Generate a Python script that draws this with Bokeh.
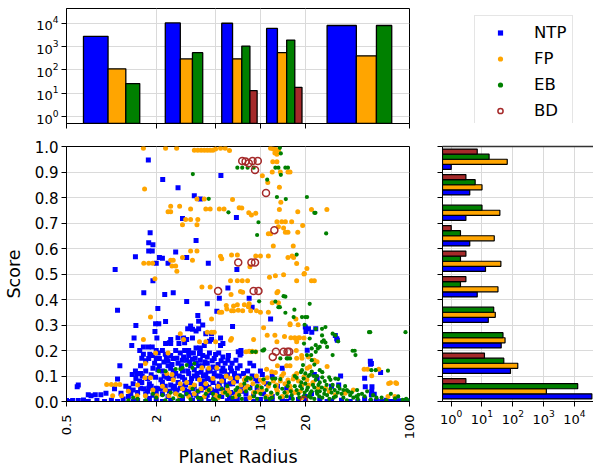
import math
from bokeh.plotting import figure
from bokeh.layouts import column, row
from bokeh.models import (FixedTicker, CustomJSTickFormatter, LogAxis, Legend, LegendItem)
from bokeh.embed import file_html
from bokeh.resources import INLINE

# ---------------- data ----------------
series = ["NTP", "FP", "EB", "BD"]
colors = ["blue", "orange", "green", "brown"]

radius_bins = [0.5, 2, 5, 10, 20, 100]
radius_ticks = [0.5, 2, 5, 10, 20, 100]
score_bins = [0.0, 0.1, 0.2, 0.3, 0.4, 0.5, 0.6, 0.7, 0.8, 0.9, 1.0]
score_ticks = [0.0, 0.1, 0.2, 0.3, 0.4, 0.5, 0.6, 0.7, 0.8, 0.9, 1.0]
count_ticks = [1, 10, 100, 1000, 10000]

# histogram counts over radius bins (top panel)
top_ntp = [2750, 10300, 10000, 6000, 8000]
top_fp = [112, 295, 300, 550, 400]
top_eb = [26, 550, 1050, 1900, 8000]
top_bd = [0, 0, 13, 18, 0]

# histogram counts over score bins (right panel)
right_ntp = [36900, 84, 42, 16, 7, 13, 4, 3, 4, 1]
right_fp = [1230, 145, 56, 27, 33, 41, 25, 38, 10, 66]
right_eb = [12800, 51, 48, 24, 2, 2, 2, 10, 6, 17]
right_bd = [3, 12, 0, 0, 3, 3, 1, 0, 3, 7]

# scatter points (planet radius, score)
ntp_points = [
    (1.77, 0.947), (5.43, 0.886), (2.21, 0.871), (2.8, 0.838), (3.6, 0.807), (3.95, 0.794), (3.0, 0.718), (6.9, 0.722),
    (1.82, 0.662), (1.78, 0.623), (1.9, 0.615), (3.7, 0.631), (1.78, 0.59), (1.88, 0.59), (2.7, 0.586), (1.45, 0.568),
    (2.1, 0.565), (2.2, 0.562), (3.2, 0.565), (4.47, 0.542), (2.0, 0.542), (2.4, 0.542), (1.06, 0.518), (6.95, 0.518),
    (1.9, 0.474), (1.65, 0.426), (2.28, 0.42), (2.6, 0.426), (6.05, 0.445), (5.3, 0.405), (3.2, 0.392), (4.4, 0.383),
    (8.4, 0.405), (8.8, 0.37), (5.1, 0.354), (2.05, 0.365), (1.1, 0.358), (3.8, 0.337), (3.85, 0.315), (3.85, 0.285),
    (3.4, 0.296), (3.7, 0.276), (6.5, 0.294), (11.7, 0.324), (1.46, 0.298), (1.98, 0.305), (2.08, 0.305), (2.31, 0.314),
    (1.96, 0.275), (3.25, 0.285), (3.5, 0.283), (4.1, 0.3), (4.3, 0.266), (4.7, 0.266), (20.2, 0.275), (21, 0.285),
    (23.5, 0.285), (22.1, 0.272), (20, 0.292),
    (1.42, 0.249), (2.02, 0.249), (2.5, 0.243), (3.05, 0.249), (3.2, 0.243), (3.5, 0.249), (5.4, 0.249), (4.55, 0.236),
    (4.7, 0.243), (32.5, 0.246), (31.8, 0.259), (32.8, 0.24),
    (1.37, 0.22), (1.64, 0.214), (1.77, 0.214), (1.88, 0.214), (2.31, 0.227), (2.5, 0.227), (2.84, 0.227), (5.4, 0.22),
    (5.6, 0.227), (4.2, 0.22), (3.9, 0.21), (3.7, 0.21),
    (1.64, 0.185), (1.81, 0.185), (2.06, 0.19), (3.9, 0.188), (7.4, 0.2), (7.4, 0.188), (7.1, 0.195), (7.3, 0.182), (20.6, 0.201),
    (1.78, 0.169), (2.0, 0.169), (2.1, 0.169), (2.34, 0.169), (2.6, 0.169), (2.99, 0.162), (3.2, 0.162), (3.5, 0.166),
    (3.95, 0.162), (4.4, 0.175), (4.9, 0.169), (5.0, 0.184), (5.6, 0.175), (6.05, 0.162), (6.85, 0.162), (54.6, 0.158),
    (55.5, 0.149), (54.8, 0.146),
    (1.14, 0.14), (1.57, 0.14), (2.1, 0.14), (2.4, 0.14), (2.8, 0.15), (5.5, 0.119), (5.6, 0.13), (6.3, 0.132), (3.0, 0.12),
    (3.3, 0.11), (3.6, 0.125), (4.0, 0.115), (4.6, 0.12), (10, 0.12), (9, 0.14), (8.5, 0.15), (14, 0.13),
    (2.2, 0.12), (2.5, 0.13), (2.7, 0.11), (1.9, 0.13), (1.7, 0.16), (1.95, 0.15), (2.25, 0.155), (2.5, 0.18), (2.7, 0.2),
    (2.9, 0.19), (3.1, 0.2), (3.3, 0.18), (3.4, 0.14), (3.7, 0.15), (4.1, 0.14), (4.4, 0.15), (4.8, 0.135), (5.2, 0.145),
    (5.8, 0.15), (6.4, 0.12), (7.0, 0.13),
    (1.38, 0.106), (1.48, 0.11), (1.57, 0.11), (10.3, 0.106), (4.3, 0.105), (5.0, 0.1), (5.5, 0.095), (6.0, 0.105),
    (6.6, 0.09), (7.2, 0.1), (8.0, 0.085), (12, 0.1), (23, 0.106), (24, 0.09), (34.5, 0.1), (50, 0.091), (64, 0.114),
    (1.1, 0.088), (1.46, 0.09), (1.61, 0.1), (1.98, 0.095), (2.26, 0.1), (2.43, 0.09), (2.6, 0.098), (3.1, 0.085),
    (3.4, 0.075), (3.8, 0.09), (4.2, 0.08), (4.8, 0.075), (5.3, 0.07), (5.9, 0.065), (6.5, 0.07), (7.5, 0.06), (8.5, 0.055),
    (9.5, 0.08), (11, 0.07), (13, 0.06), (15, 0.05), (3.0, 0.095), (3.6, 0.1), (4.4, 0.09), (2.8, 0.075), (2.2, 0.075),
    (1.8, 0.07), (1.6, 0.075), (1.4, 0.07), (2.5, 0.065),
    (0.59, 0.058), (0.6, 0.065), (1.05, 0.05), (1.31, 0.052), (1.57, 0.052), (1.78, 0.052), (2.0, 0.052), (2.22, 0.052),
    (2.6, 0.052), (2.9, 0.052), (3.0, 0.06), (3.5, 0.05), (4.0, 0.045), (4.5, 0.055), (5.0, 0.04), (5.7, 0.045),
    (6.3, 0.035), (7.0, 0.04), (9.5, 0.05), (30, 0.06), (33.5, 0.065), (50.5, 0.058), (56, 0.058), (3.3, 0.04), (4.6, 0.035),
    (1.4, 0.045), (2.0, 0.035),
    (0.7, 0.026), (0.78, 0.026), (0.85, 0.026), (0.73, 0.023), (0.92, 0.032), (1.16, 0.032), (1.5, 0.035), (1.7, 0.03),
    (1.9, 0.025), (2.2, 0.03), (2.4, 0.02), (2.7, 0.035), (3.2, 0.03), (3.7, 0.025), (4.3, 0.02), (4.9, 0.025), (5.5, 0.02),
    (6.2, 0.015), (7.0, 0.02), (8.0, 0.03), (9.0, 0.025), (10.5, 0.03), (12, 0.02), (16, 0.015), (20, 0.02), (22, 0.03),
    (55.8, 0.039), (58, 0.028), (55.5, 0.026), (2.9, 0.015), (3.9, 0.012), (1.8, 0.012),
    (0.5, 0.004), (0.55, 0.004), (0.6, 0.004), (0.65, 0.006), (0.8, 0.004), (1.0, 0.005), (1.2, 0.01), (1.3, 0.02),
    (1.5, 0.004), (2.0, 0.01), (2.5, 0.004), (3.0, 0.01), (3.5, 0.004), (4.0, 0.008), (5.0, 0.01), (6.0, 0.003),
    (6.5, 0.008), (8.0, 0.01), (10, 0.008), (12, 0.003), (14, 0.01), (18, 0.008), (25, 0.006), (30, 0.003), (35, 0.005),
    (50, 0.01), (60, 0.003), (70, 0.005), (85, 0.003), (95, 0.004),
    # dense core of the NTP cloud
    (1.55, 0.2), (1.6, 0.17), (1.7, 0.12), (1.75, 0.09), (1.85, 0.105), (1.9, 0.18), (2.0, 0.2), (2.05, 0.125),
    (2.15, 0.085), (2.2, 0.2), (2.3, 0.185), (2.35, 0.095), (2.4, 0.16), (2.45, 0.23), (2.55, 0.145), (2.6, 0.12),
    (2.65, 0.06), (2.75, 0.17), (2.8, 0.25), (2.85, 0.1), (2.95, 0.14), (3.05, 0.175), (3.1, 0.23), (3.15, 0.065),
    (3.25, 0.12), (3.3, 0.2), (3.35, 0.155), (3.45, 0.09), (3.55, 0.19), (3.6, 0.06), (3.65, 0.17), (3.75, 0.11),
    (3.85, 0.14), (3.95, 0.2), (4.0, 0.07), (4.1, 0.18), (4.15, 0.1), (4.25, 0.155), (4.35, 0.06), (4.45, 0.12),
    (4.55, 0.19), (4.65, 0.085), (4.75, 0.16), (4.9, 0.11), (5.05, 0.13), (5.15, 0.06), (5.25, 0.19), (5.35, 0.1),
    (5.45, 0.16), (5.65, 0.08), (5.75, 0.12), (5.95, 0.1), (6.1, 0.18), (6.25, 0.07), (6.45, 0.15), (6.7, 0.11),
    (6.9, 0.08), (7.3, 0.14), (7.7, 0.11), (8.2, 0.12), (8.8, 0.1), (9.3, 0.09), (1.25, 0.06), (1.35, 0.03), (1.45, 0.12),
    (1.55, 0.08), (1.65, 0.05), (1.75, 0.04), (1.85, 0.06), (2.1, 0.05), (2.3, 0.06), (2.45, 0.04), (2.75, 0.045),
    (3.1, 0.045), (3.4, 0.025), (3.8, 0.04), (4.2, 0.055), (4.4, 0.025), (4.7, 0.045), (5.1, 0.03), (5.4, 0.05),
    (6.0, 0.045), (6.8, 0.03), (7.6, 0.04),
    # NTP points lying on zero score
    (0.52, 0.0), (0.7, 0.0), (0.9, 0.0), (1.1, 0.0), (1.4, 0.0), (1.7, 0.0), (2.2, 0.0), (2.8, 0.0), (4.5, 0.0), (7, 0.0),
    (9, 0.0), (11, 0.0), (15, 0.0), (20, 0.0), (28, 0.0), (40, 0.0), (45, 0.0), (55, 0.0), (65, 0.0), (75, 0.0),
    (80, 0.0), (90, 0.0), (99, 0.0),
]

fp_points = [
    (1.64, 0.993), (2.31, 0.993), (2.74, 0.993), (3.6, 0.985), (3.8, 0.985), (4.0, 0.985), (4.2, 0.985), (4.4, 0.985),
    (4.6, 0.985), (4.8, 0.985), (5.0, 0.99), (5.4, 0.993), (5.8, 0.993), (6.2, 0.984),
    (11.7, 0.993), (12.2, 0.99), (12.7, 0.988), (13.2, 0.985), (12.5, 0.975), (12.9, 0.97),
    (12.1, 0.94), (12.9, 0.94), (12.0, 0.9), (13.6, 0.9), (15.8, 0.9), (15.3, 0.9), (10.3, 0.885), (11.2, 0.859), (13.4, 0.84),
    (1.67, 0.833), (3.75, 0.794), (4.2, 0.794), (6.5, 0.792), (13.7, 0.781),
    (2.5, 0.766), (2.87, 0.766), (2.4, 0.744), (2.5, 0.744), (3.4, 0.755), (4.3, 0.755), (4.6, 0.755), (5.3, 0.755),
    (5.7, 0.755), (7.2, 0.76), (7.5, 0.759), (13.4, 0.753), (8.35, 0.74), (8.7, 0.731), (9.3, 0.738), (17.8, 0.744),
    (22, 0.753), (27.9, 0.753),
    (3.15, 0.714), (3.4, 0.714), (3.8, 0.714), (3.0, 0.693), (3.75, 0.693), (12.9, 0.705), (13.9, 0.705), (14.7, 0.705),
    (16.2, 0.705), (13.2, 0.685), (14.3, 0.68), (14.7, 0.664), (15.3, 0.664), (11.3, 0.658), (11.7, 0.658), (19.2, 0.69),
    (17.8, 0.664),
    (12.2, 0.61), (16.6, 0.61), (3.4, 0.59), (3.75, 0.59), (5.4, 0.57), (5.5, 0.56), (6.4, 0.575), (7.0, 0.575), (3.0, 0.565),
    (2.5, 0.554), (2.6, 0.554), (3.5, 0.554), (1.65, 0.542), (1.78, 0.542), (1.89, 0.542), (2.55, 0.531), (2.7, 0.531),
    (2.75, 0.511),
    (9.3, 0.571), (10.0, 0.571), (11.3, 0.571), (15.3, 0.565), (16.3, 0.571), (16.7, 0.565), (17.5, 0.541), (8.5, 0.528),
    (20.5, 0.522), (19.6, 0.5), (19.7, 0.502),
    (1.96, 0.481), (6.3, 0.474), (7.0, 0.474), (7.55, 0.474), (8.2, 0.474), (11.5, 0.487), (12.6, 0.493), (14.3, 0.497),
    (17.5, 0.474), (22, 0.474), (23, 0.474),
    (4.05, 0.449), (4.6, 0.449), (7.35, 0.431), (7.6, 0.428), (13.1, 0.431), (12.9, 0.426), (6.35, 0.42),
    (5.9, 0.376), (6.4, 0.356), (6.6, 0.356), (7.1, 0.358), (7.6, 0.356), (8.3, 0.372), (8.6, 0.356), (9.4, 0.356),
    (4.7, 0.324), (5.3, 0.35), (5.5, 0.35), (5.95, 0.363), (6.6, 0.375), (7.0, 0.379), (7.8, 0.379), (8.4, 0.383),
    (10, 0.35), (11.3, 0.35), (12.0, 0.387), (13.2, 0.387), (15.8, 0.301), (17.9, 0.301), (15.8, 0.305), (17.3, 0.324),
    (10.5, 0.289), (1.83, 0.331),
    (4.4, 0.272), (4.7, 0.272), (4.9, 0.272), (6.4, 0.247), (6.3, 0.24), (5.0, 0.234), (4.3, 0.234), (3.9, 0.234),
    (2.9, 0.266), (3.05, 0.243), (9.0, 0.243), (1.64, 0.243), (11.1, 0.26), (12.5, 0.26), (14.5, 0.255), (16.0, 0.25),
    (17.0, 0.25), (18.3, 0.25), (12.9, 0.234), (17.9, 0.249), (19.6, 0.249), (17.2, 0.247), (17.5, 0.234),
    (8.4, 0.197), (8.8, 0.197), (8.0, 0.195), (8.6, 0.195), (9.3, 0.195), (1.98, 0.19), (2.4, 0.19), (17.4, 0.2),
    (18.9, 0.18), (17.5, 0.17), (19, 0.17), (21, 0.175), (23, 0.162), (24, 0.156),
    (1.69, 0.149), (13.0, 0.14), (15.0, 0.14), (15.8, 0.14), (28, 0.137), (21.4, 0.136), (20.6, 0.13), (4.05, 0.132),
    (4.5, 0.13), (5.1, 0.132), (11.0, 0.126), (11.9, 0.117), (12.6, 0.114), (49.6, 0.126), (52.3, 0.126), (62.2, 0.126),
    (14.3, 0.11), (17.5, 0.11), (2.35, 0.11), (2.55, 0.106), (55.8, 0.101), (19.6, 0.097), (1.68, 0.093), (1.83, 0.093),
    (11.1, 0.093), (6.3, 0.091), (7.0, 0.093), (8.0, 0.093), (8.6, 0.088), (10.0, 0.084), (13.6, 0.08), (15.3, 0.084),
    (16.6, 0.088), (74.5, 0.074), (80.8, 0.074), (72.5, 0.071), (82, 0.071),
    (0.93, 0.067), (1.0, 0.067), (1.07, 0.067), (1.14, 0.067), (21, 0.065), (24.3, 0.052), (27.3, 0.052), (3.0, 0.05),
    (3.4, 0.055), (4.0, 0.05), (4.6, 0.05), (5.6, 0.035), (6.2, 0.035), (7.3, 0.04), (9.6, 0.038), (13, 0.04), (15, 0.035),
    (17, 0.035), (42, 0.045), (29, 0.039), (37, 0.032), (31.8, 0.026),
    (1.02, 0.023), (1.17, 0.023), (1.49, 0.023), (1.69, 0.023), (2.02, 0.023), (2.43, 0.023), (2.84, 0.023), (3.3, 0.02),
    (4.2, 0.02), (5.2, 0.015), (6.8, 0.02), (8.5, 0.015), (11, 0.02), (14, 0.02), (19, 0.015), (71.7, 0.02), (79.7, 0.02),
    # dense FP band at low scores
    (2.2, 0.06), (2.6, 0.085), (3.2, 0.075), (3.6, 0.065), (3.9, 0.085), (4.3, 0.07), (4.8, 0.09), (5.2, 0.06),
    (5.5, 0.08), (5.9, 0.1), (6.6, 0.075), (7.4, 0.065), (7.8, 0.085), (8.2, 0.06), (8.9, 0.07), (9.4, 0.1), (9.8, 0.06),
    (10.5, 0.075), (11.3, 0.06), (12.2, 0.08), (12.8, 0.065), (13.9, 0.1), (14.6, 0.07), (15.8, 0.06), (16.8, 0.1),
    (18, 0.08), (19, 0.065), (20.5, 0.085), (22.5, 0.075), (3.6, 0.03), (4.4, 0.04), (5.0, 0.025), (6.0, 0.05),
    (7.0, 0.03), (7.9, 0.05), (9.0, 0.035), (10.2, 0.045), (11.8, 0.03), (12.8, 0.05), (16.0, 0.045), (18.5, 0.04),
    (2.3, 0.045), (2.7, 0.03), (2.9, 0.07), (1.3, 0.04), (1.5, 0.065), (1.9, 0.045),
]

eb_points = [
    (13.5, 0.995), (13.7, 0.973), (3.52, 0.892), (7.0, 0.917), (7.55, 0.917), (8.2, 0.917), (9.0, 0.917), (12.6, 0.917),
    (13.2, 0.917), (14.7, 0.917), (15.3, 0.917), (13.7, 0.889), (11.1, 0.87),
    (4.5, 0.795), (12.9, 0.802), (14.8, 0.794), (20.5, 0.802), (6.1, 0.742), (23, 0.74), (23.4, 0.74), (9.7, 0.703),
    (27.6, 0.659), (9.5, 0.653), (17.5, 0.576),
    (14.7, 0.411), (9.8, 0.393), (12.6, 0.392), (13.5, 0.37), (13.2, 0.37), (14.3, 0.413), (14.7, 0.348), (16.9, 0.36),
    (16.7, 0.331), (21.4, 0.383), (19, 0.331), (20, 0.331), (20.6, 0.331),
    (19.8, 0.301), (23.5, 0.285), (25.9, 0.285), (27.3, 0.292), (31.8, 0.259), (33.2, 0.236), (30.5, 0.266), (25.9, 0.259),
    (26.6, 0.24), (54.5, 0.272), (53.5, 0.272), (94, 0.272),
    (21.4, 0.247), (19.6, 0.227), (25.9, 0.234), (27.3, 0.231), (23.5, 0.221), (24.3, 0.208), (28, 0.214), (25, 0.214),
    (22.1, 0.208), (23.5, 0.195), (20.5, 0.182), (21.9, 0.182), (22.1, 0.162), (23, 0.145), (30.5, 0.182), (41.5, 0.199),
    (42.9, 0.199), (43.4, 0.182),
    (10.3, 0.2), (10.6, 0.205), (10.5, 0.2), (9.3, 0.195), (8.8, 0.195), (13.6, 0.169), (15.0, 0.169), (15.3, 0.169),
    (15.8, 0.169), (19.3, 0.143),
    (25, 0.123), (19, 0.123), (22.1, 0.117), (18.7, 0.115), (20, 0.11), (21.5, 0.105), (24, 0.1), (26, 0.115),
    (55.5, 0.123), (59.3, 0.123), (71.7, 0.121),
    (3.0, 0.132), (3.2, 0.143), (3.5, 0.132), (3.6, 0.149), (2.08, 0.119), (2.31, 0.119), (2.7, 0.127), (2.9, 0.127),
    (31.8, 0.09), (33.2, 0.088), (28.9, 0.095), (30.5, 0.065), (33.2, 0.06), (12.6, 0.09), (13.6, 0.088), (17.5, 0.093),
    (8.2, 0.093), (8.6, 0.091), (8.0, 0.085), (10.5, 0.087), (12.0, 0.09),
    (19.5, 0.09), (21, 0.1), (23.5, 0.085), (26, 0.095), (18.5, 0.06), (20.5, 0.045), (24.5, 0.065), (3.5, 0.05),
    (4.5, 0.045), (6, 0.06), (7, 0.055), (9.5, 0.06), (11.5, 0.07), (15.5, 0.075), (2.5, 0.035), (1.9, 0.03),
    (44.5, 0.045), (39, 0.039), (36, 0.045), (38, 0.045), (45.5, 0.026), (84, 0.02),
    (1.3, 0.005), (1.5, 0.01), (1.7, 0.005), (2.0, 0.015), (2.3, 0.005), (2.6, 0.012), (3.0, 0.02), (3.4, 0.008),
    (3.8, 0.015), (4.3, 0.03), (4.8, 0.01), (5.3, 0.02), (5.8, 0.035), (6.5, 0.015), (7.2, 0.025), (8.0, 0.04), (9.0, 0.02),
    (10, 0.03), (11, 0.045), (12, 0.015), (13, 0.03), (14, 0.05), (15, 0.02), (16, 0.04), (17, 0.06), (18, 0.03),
    (19, 0.05), (20, 0.07), (21, 0.02), (22, 0.04), (23, 0.055), (24, 0.03), (25, 0.075), (26, 0.015), (27, 0.045),
    (28, 0.025), (30, 0.035), (32, 0.02), (34, 0.05), (36, 0.015), (40, 0.025), (45, 0.01), (50, 0.02), (55, 0.008),
    (60, 0.015), (70, 0.005), (80, 0.012), (90, 0.006), (100, 0.005),
    (1.4, 0.015), (2.2, 0.025), (2.8, 0.005), (3.2, 0.03), (4.0, 0.01), (5.0, 0.005), (6.0, 0.025), (7.5, 0.01),
    (9.5, 0.01), (11.5, 0.01), (16.5, 0.01), (19.5, 0.02), (21.5, 0.03), (23, 0.01), (25, 0.04), (29, 0.01), (33, 0.035),
    (38, 0.005), (42, 0.015), (48, 0.03),
    # dense EB band at low scores
    (8.5, 0.05), (9.2, 0.035), (10.2, 0.055), (10.8, 0.015), (11.8, 0.035), (12.5, 0.06), (13.5, 0.015), (14.5, 0.035),
    (15.2, 0.06), (16.2, 0.025), (17.5, 0.045), (18.2, 0.015), (18.8, 0.075), (19.8, 0.035), (20.8, 0.055),
    (21.8, 0.015), (22.5, 0.065), (23.8, 0.04), (24.8, 0.02), (25.8, 0.055), (26.8, 0.03), (27.8, 0.065), (29.5, 0.05),
    (31, 0.015), (31.5, 0.045), (35, 0.03), (37, 0.06), (41, 0.035), (44, 0.02), (52, 0.04), (57, 0.025), (65, 0.015),
    (75, 0.03), (95, 0.01), (6.8, 0.045), (7.8, 0.07), (5.5, 0.05), (4.8, 0.03), (3.8, 0.04), (2.9, 0.025), (17, 0.1),
    (22.8, 0.1), (27, 0.08), (29.5, 0.085),
]

bd_points = [
    (7.55, 0.943), (7.95, 0.941), (8.35, 0.934), (8.85, 0.943), (9.6, 0.943), (9.2, 0.908), (10.9, 0.818), (12.4, 0.672),
    (7.1, 0.545), (8.7, 0.545), (9.2, 0.545), (5.2, 0.433), (9.0, 0.433), (9.7, 0.433),
    (12.1, 0.175), (12.7, 0.195), (14.3, 0.195), (15.2, 0.195), (15.6, 0.195), (19.6, 0.005),
]

top_counts = [top_ntp, top_fp, top_eb, top_bd]
right_counts = [right_ntp, right_fp, right_eb, right_bd]
points = [ntp_points, fp_points, eb_points, bd_points]

# ---------------- styling helpers ----------------
FONT = "DejaVu Sans"
TICK_FS = "13px"
YTICK_FS = "15px"
LABEL_FS = "17.5px"
GRID = "#dadada"


def blank():
    return CustomJSTickFormatter(code="return '';")


def style(p):
    for ax in p.axis:
        ax.axis_line_color = "black"
        ax.axis_line_width = 1
        ax.major_tick_line_color = "black"
        ax.major_tick_in = 0
        ax.major_tick_out = 5
        ax.minor_tick_line_color = None
        ax.major_label_text_font = FONT
        ax.major_label_text_font_size = TICK_FS
        ax.major_label_text_color = "black"
        ax.axis_label_text_font = FONT
        ax.axis_label_text_font_size = LABEL_FS
        ax.axis_label_text_font_style = "normal"
        ax.axis_label_text_color = "black"
        ax.major_label_standoff = 3
    p.grid.grid_line_color = GRID
    p.grid.grid_line_width = 1
    p.outline_line_color = "black"
    p.outline_line_width = 1


common = dict(output_backend="svg", toolbar_location=None)

# ---------------- top histogram ----------------
top_ymin, top_ymax = 0.507, 42800
top = figure(width=425, height=140, x_axis_type="log", y_axis_type="log",
             x_range=(0.5, 100), y_range=(top_ymin, top_ymax),
             min_border_left=66, min_border_right=16, min_border_top=6, min_border_bottom=17, **common)
for k, col in enumerate(colors):
    L, R, T = [], [], []
    for j in range(len(radius_bins) - 1):
        c = top_counts[k][j]
        if c <= 0:
            continue
        a, b = radius_bins[j], radius_bins[j + 1]
        w = b - a
        left = a + 0.1 * w + 0.2 * w * k
        L.append(left)
        R.append(left + 0.2 * w)
        T.append(c)
    top.quad(left=L, right=R, bottom=top_ymin, top=T, fill_color=col, line_color="black", line_width=1.3)
style(top)
top.xaxis.ticker = FixedTicker(ticks=radius_ticks)
top.xaxis.formatter = blank()
top.yaxis.ticker = FixedTicker(ticks=count_ticks)

# ---------------- legend panel ----------------
leg = figure(width=168, height=140, x_range=(0, 1), y_range=(0, 1),
             min_border_left=42, min_border_right=0, min_border_top=8, min_border_bottom=0,
             x_axis_location=None, y_axis_location=None, **common)
leg.grid.visible = False
leg.outline_line_color = None
nan = float("nan")
r_ntp = leg.scatter(x=[nan], y=[nan], marker="square", fill_color="blue", line_color=None)
r_fp = leg.scatter(x=[nan], y=[nan], marker="circle", fill_color="orange", line_color=None)
r_eb = leg.scatter(x=[nan], y=[nan], marker="circle", fill_color="green", line_color=None)
r_bd = leg.scatter(x=[nan], y=[nan], marker="circle", fill_color=None, line_color="brown", line_width=1.5)
legend = Legend(items=[LegendItem(label=s, renderers=[r]) for s, r in zip(series, [r_ntp, r_fp, r_eb, r_bd])],
                location="top_left", padding=6, spacing=6, margin=7,
                glyph_width=38, glyph_height=13, label_height=20, label_standoff=15,
                label_text_font=FONT, label_text_font_size="16.5px", label_text_color="black",
                border_line_color="#cccccc", border_line_width=1,
                background_fill_color="white", background_fill_alpha=0.8)
leg.add_layout(legend)

# ---------------- main scatter ----------------
main = figure(width=425, height=330, x_axis_type="log", x_range=(0.5, 100), y_range=(0, 1),
              min_border_left=66, min_border_right=16, min_border_top=6, min_border_bottom=67, **common)
styles = [
    dict(marker="square", size=5, fill_color="blue", line_color=None),
    dict(marker="circle", size=5, fill_color="orange", line_color=None),
    dict(marker="circle", size=4.2, fill_color="green", line_color=None),
    dict(marker="circle", size=7, fill_color=None, line_color="brown", line_width=1.5),
]
for pts, st in zip(points, styles):
    main.scatter(x=[p[0] for p in pts], y=[p[1] for p in pts], **st)
style(main)
main.xaxis.ticker = FixedTicker(ticks=radius_ticks)
main.xaxis.formatter = CustomJSTickFormatter(code="return tick.toString();")
main.xaxis.major_label_orientation = math.pi / 2
main.xaxis.major_label_standoff = 8
main.yaxis.ticker = FixedTicker(ticks=score_ticks)
main.yaxis.formatter = CustomJSTickFormatter(code="return tick.toFixed(1);")
main.yaxis.major_label_text_font_size = YTICK_FS
main.xaxis.axis_label = "Planet Radius"
main.yaxis.axis_label = "Score"
main.xaxis.axis_label_standoff = 5
main.yaxis.axis_label_standoff = 8

# ---------------- right histogram ----------------
right_xmin, right_xmax = 0.522, 41700
right = figure(width=168, height=330, x_axis_type="log", x_range=(right_xmin, right_xmax), y_range=(0, 1),
               min_border_left=17, min_border_right=0, min_border_top=6, min_border_bottom=67, **common)
for k, col in enumerate(colors):
    B, T, R = [], [], []
    for i in range(len(score_bins) - 1):
        c = right_counts[k][i]
        if c <= 0:
            continue
        lo, hi = score_bins[i], score_bins[i + 1]
        w = hi - lo
        b = lo + 0.1 * w + 0.2 * w * k
        B.append(b)
        T.append(b + 0.2 * w)
        R.append(c)
    right.quad(left=right_xmin, right=R, bottom=B, top=T, fill_color=col, line_color="black", line_width=1.2)
style(right)
right.outline_line_color = None
right.xaxis.ticker = FixedTicker(ticks=count_ticks)
right.yaxis.ticker = FixedTicker(ticks=score_ticks)
right.yaxis.formatter = blank()
top_line = LogAxis(ticker=FixedTicker(ticks=[]), formatter=blank(),
                   axis_line_color="#333333", axis_line_width=1.5, major_tick_line_color=None,
                   minor_tick_line_color=None, major_tick_out=0, minor_tick_out=0, major_label_standoff=0)
right.add_layout(top_line, "above")

layout = column(row(top, leg), row(main, right))

open("out.html", "w").write(file_html(layout, INLINE))
